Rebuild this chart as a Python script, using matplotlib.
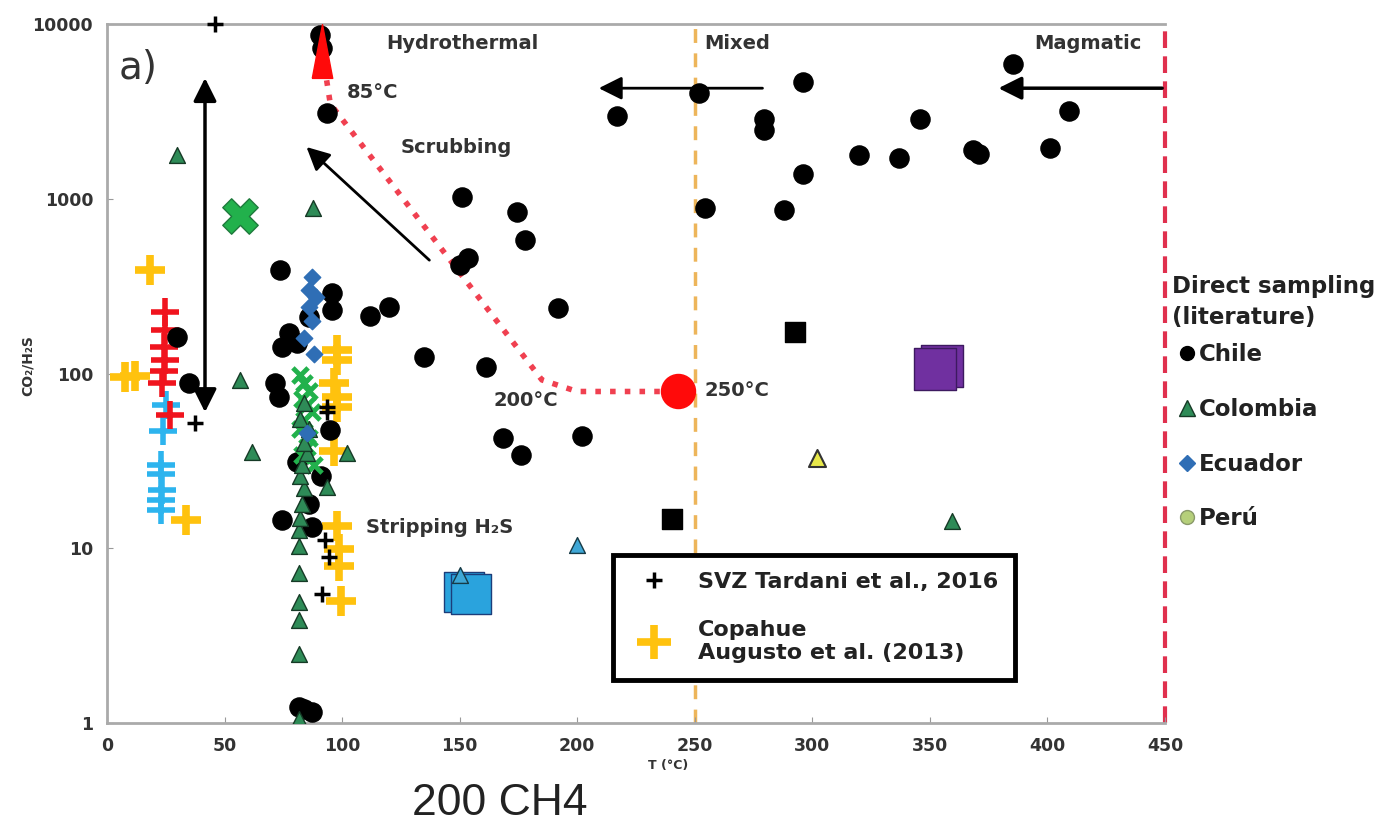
import numpy as np
import matplotlib.pyplot as plt
from matplotlib.lines import Line2D

plt.rcParams['font.family'] = ['DejaVu Sans']

# --- datos ---
chile_T = [90.5, 91.5, 93.6, 151, 174.5, 178, 150.2, 153.6, 192, 135, 161.3, 168.5, 176, 202,
           112, 120, 217, 251.9, 254.5, 279.6, 279.6, 296, 296, 288, 320, 337, 346, 368.5, 371,
           385.5, 400.9, 409,
           73.6, 95.7, 95.7, 86, 77.4, 80.9, 74.5, 71.5, 73, 95, 81, 91, 74.5, 87.2, 86,
           81.7, 87, 84, 29.8, 35]
chile_y = [8650, 7300, 3100, 1030, 840, 580, 417, 457, 237, 124, 109, 43, 34, 44,
           213, 240, 2980, 4030, 885, 2870, 2470, 4660, 1390, 860, 1780, 1710, 2860, 1900, 1800,
           5900, 1950, 3180,
           391, 290, 230, 210, 170, 150, 142, 88, 73, 47.5, 31, 26, 14.5, 13.2, 18,
           1.24, 1.15, 1.2, 162, 88]

col_T = [29.8, 56.6, 61.7, 87.7, 102, 93.6, 359.6,
         81.7, 81.7, 81.7, 81.7, 81.7, 81.7, 81.7, 82, 83, 84, 82, 83, 85, 84, 86, 82, 84]
col_y = [1780, 92, 35.5, 885, 35, 22.4, 14.3,
         1.05, 2.5, 3.9, 4.9, 7.2, 10.3, 12.8, 15, 18, 22, 26, 30, 35, 40, 48, 55, 68]

ecu_T = [87, 86, 87, 88, 85, 89, 86, 84]
ecu_y = [357, 300, 200, 130, 46, 273, 240, 160]

gx_T = [82, 84, 86, 83, 85, 87, 84, 82, 86, 85, 83, 88]
gx_y = [98, 88, 80, 72, 66, 60, 54, 48, 43, 38, 34, 30]
gstar_T = [56.6]
gstar_y = [795]

svz_T = [46, 37.4, 92.8, 94.5, 91.5, 93.6, 93.6]
svz_y = [10000, 52, 11.1, 8.9, 5.5, 64, 60]

cop_T = [18.3, 7.7, 12, 33.6, 97.9, 97.9, 96.5, 97.9, 97.9, 96.5, 97.9, 98.5, 98.5, 99.5]
cop_y = [391, 95, 97, 14.5, 137, 119, 88, 73, 64, 36, 13.5, 9.9, 7.9, 5.0]

red_T = [24.7, 24.7, 24.3, 24.7, 24.3, 23.5, 26.8]
red_y = [225, 177, 142, 120, 104, 88, 58]

lblue_T = [25, 24, 23, 23, 23.5, 23, 23]
lblue_y = [66, 47, 30, 26.5, 21.5, 18.8, 16.5]

sq_T = [292.8, 240.4]
sq_y = [173, 14.7]

# camino de enfriamiento (linea roja punteada)
path_T = [91.5, 95, 185, 200, 243]
path_y = [7000, 3500, 92, 79, 79]

fig = plt.figure(figsize=(14, 8.33), dpi=100)
ax = fig.add_axes([0.0764, 0.132, 0.7557, 0.839])
ax.set_yscale('log')
ax.set_xlim(0, 450)
ax.set_ylim(1, 10000)

ax.axvline(250, color='#EDB55A', ls=(0, (4, 3)), lw=2.5, zorder=1)
ax.axvline(450, color='#E0304E', ls=(0, (4, 2)), lw=3, zorder=1, clip_on=False)

ax.plot(path_T, path_y, ls=':', color='#F04050', lw=4, zorder=2)

ax.scatter(lblue_T, lblue_y, marker='+', s=380, linewidths=4, color='#2DB4EE', zorder=3)
ax.scatter(red_T, red_y, marker='+', s=380, linewidths=4, color='#F0141E', zorder=3)
ax.scatter(cop_T, cop_y, marker='+', s=480, linewidths=5.5, color='#FFC20E', zorder=3)
ax.scatter(chile_T, chile_y, marker='o', s=190, color='black', zorder=4)
ax.scatter(gx_T, gx_y, marker='x', s=120, linewidths=3.5, color='#22B14C', zorder=5)
ax.scatter(gstar_T, gstar_y, marker='X', s=650, color='#22B14C', edgecolors='#1E7A3C', zorder=5)
ax.scatter(col_T, col_y, marker='^', s=130, color='#2E8B57', edgecolors='#163A26', linewidths=1, zorder=5)
ax.scatter(ecu_T, ecu_y, marker='D', s=70, color='#2F6EB5', zorder=6)
ax.scatter(svz_T, svz_y, marker='+', s=120, linewidths=2.5, color='black', zorder=6, clip_on=False)
ax.scatter(sq_T, sq_y, marker='s', s=200, color='black', zorder=4)

ax.scatter([355, 352], [110, 106], marker='s', s=900, color='#7030A0', edgecolors='#3D1A60', zorder=4)
ax.scatter([152, 155], [5.6, 5.5], marker='s', s=800, color='#2AA3DD', edgecolors='#1C3D7A', zorder=4)
ax.scatter([150, 200], [7, 10.4], marker='^', s=130, color='#3FA7D6', edgecolors='#163A46', zorder=5)
ax.scatter([302], [33], marker='^', s=150, color='#E8E84A', edgecolors='#333333', linewidths=1.5, zorder=5)
gota = [(-0.38, -1), (0, 1), (0.38, -1), (-0.38, -1)]
ax.scatter([91.5], [7000], marker=gota, s=1500, color='#FF0A0A', zorder=6)
ax.scatter([243], [79], marker='o', s=600, color='#FF0A0A', zorder=6)

# flechas
ax.annotate('', xy=(41.7, 5100), xytext=(41.7, 58),
            arrowprops=dict(arrowstyle='<|-|>', color='black', lw=2.5, mutation_scale=35))
ax.annotate('', xy=(84, 2030), xytext=(138, 435),
            arrowprops=dict(arrowstyle='-|>', color='black', lw=2, mutation_scale=35))
ax.annotate('', xy=(208, 4300), xytext=(280, 4300),
            arrowprops=dict(arrowstyle='-|>', color='black', lw=2, mutation_scale=35))
ax.annotate('', xy=(378, 4300), xytext=(450, 4300),
            arrowprops=dict(arrowstyle='-|>', color='black', lw=2.5, mutation_scale=35))

txt = dict(fontsize=14, fontweight='bold', color='#333333')
ax.text(5, 5600, 'a)', fontsize=28, color='#333333', va='center')
ax.text(119, 7800, 'Hydrothermal', va='center', **txt)
ax.text(254, 7800, 'Mixed', va='center', **txt)
ax.text(440, 7800, 'Magmatic', va='center', ha='right', **txt)
ax.text(102, 4080, '85°C', va='center', **txt)
ax.text(125, 1980, 'Scrubbing', va='center', **txt)
ax.text(178, 70, '200°C', va='center', ha='center', **txt)
ax.text(254, 80, '250°C', va='center', **txt)
ax.text(110, 13.2, 'Stripping H₂S', va='center', **txt)

ax.set_xticks(np.arange(0, 451, 50))
ax.set_yticks([1, 10, 100, 1000, 10000])
ax.set_yticklabels(['1', '10', '100', '1000', '10000'])
ax.minorticks_off()
ax.tick_params(direction='in', length=4, color='#999999', labelsize=12.5, labelcolor='#333333', pad=10)
for lab in ax.get_xticklabels() + ax.get_yticklabels():
    lab.set_fontweight('bold')
for s in ['left', 'bottom', 'top']:
    ax.spines[s].set_color('#AAAAAA')
    ax.spines[s].set_linewidth(2)
ax.spines['right'].set_visible(False)

ax.set_ylabel('CO₂/H₂S', fontsize=10, fontweight='bold', color='#333333')
ax.yaxis.set_label_coords(-0.068, 0.512)
fig.text(0.463, 0.077, 'T (°C)', fontsize=9, fontweight='bold', color='#333333', ha='left')
fig.text(0.357, 0.036, '200 CH4', fontsize=32, family='Liberation Sans', color='#222222',
         ha='center', va='center')

# leyenda interior
h_in = [Line2D([], [], marker='+', ls='', color='black', markersize=12, markeredgewidth=2.5),
        Line2D([], [], marker='+', ls='', color='#FFC20E', markersize=24, markeredgewidth=5.5)]
leg = ax.legend(h_in, ['SVZ Tardani et al., 2016', 'Copahue\nAugusto et al. (2013)'],
                loc='upper left', bbox_to_anchor=(0.478, 0.240), fancybox=False,
                edgecolor='black', framealpha=1, prop={'size': 16, 'weight': 'bold'},
                borderpad=0.75, labelspacing=1.25, handlelength=2.2, handletextpad=0.9,
                borderaxespad=0)
leg.get_frame().set_linewidth(3.5)
for t in leg.get_texts():
    t.set_color('#222222')

# leyenda exterior
fig.text(0.837, 1 - 302 / 833, 'Direct sampling\n(literature)', fontsize=16.5, fontweight='bold',
         color='#222222', ha='left', va='center', linespacing=1.4)
h_out = [Line2D([], [], marker='o', ls='', color='black', markersize=10),
         Line2D([], [], marker='^', ls='', color='#2E8B57', markeredgecolor='#163A26', markersize=11),
         Line2D([], [], marker='D', ls='', color='#2F6EB5', markersize=8),
         Line2D([], [], marker='o', ls='', color='#B5CF7A', markeredgecolor='#8A9A6A', markersize=10)]
leg2 = fig.legend(h_out, ['Chile', 'Colombia', 'Ecuador', 'Perú'],
                  loc='upper left', bbox_to_anchor=(0.837, 0.596), frameon=False,
                  prop={'size': 16.5, 'weight': 'bold'}, borderaxespad=0, borderpad=0.3,
                  labelspacing=1.38, handlelength=0.7, handletextpad=0.2)
for t in leg2.get_texts():
    t.set_color('#222222')

fig.savefig('out.png', dpi=100)
